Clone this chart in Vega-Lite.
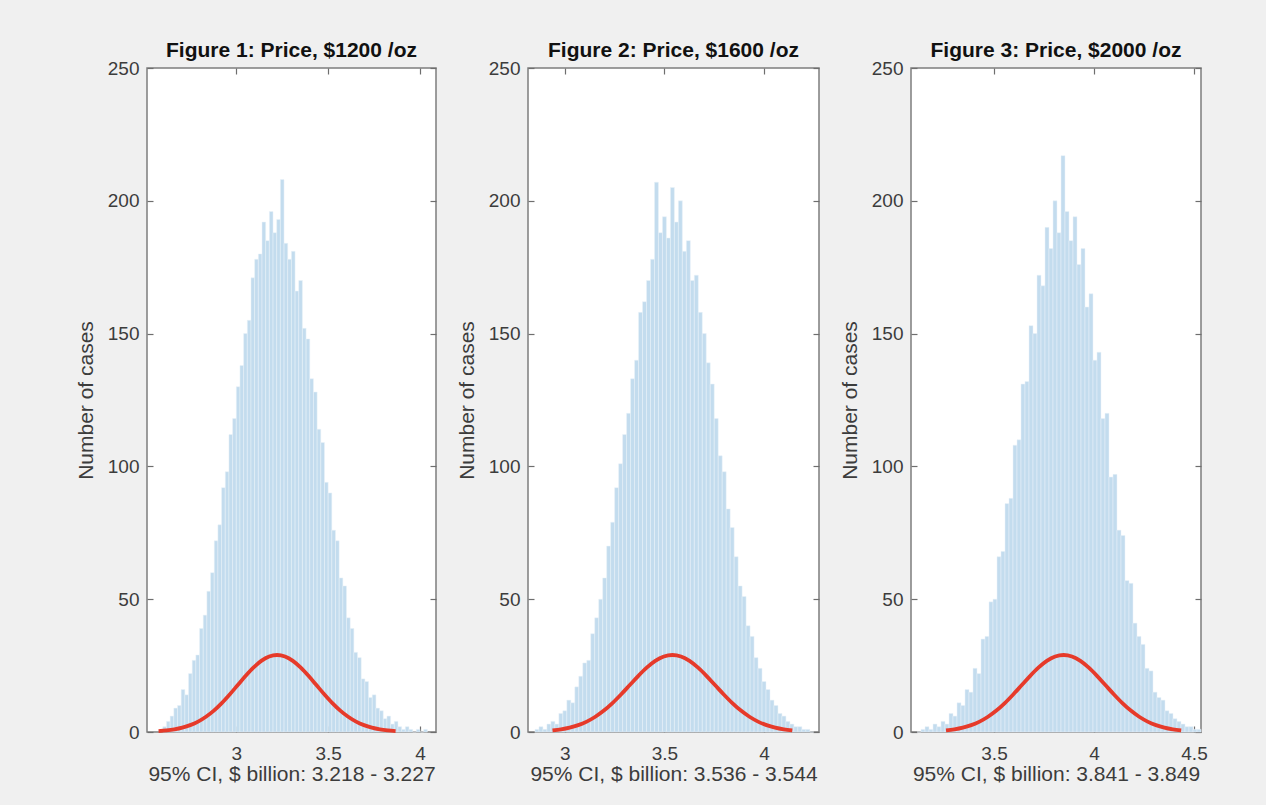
{
  "$schema": "https://vega.github.io/schema/vega-lite/v6.json",
  "background": "#f0f0f0",
  "padding": {"left": 74, "top": 39, "right": 60, "bottom": 20},
  "spacing": 17,
  "config": {
    "font": "Liberation Sans",
    "view": {"stroke": "#7d7d7d", "strokeWidth": 1.5, "fill": "white"},
    "axis": {
      "grid": false, "domain": false,
      "labelFont": "Liberation Sans", "labelFontSize": 19, "labelColor": "#3c3c3c",
      "titleFont": "Liberation Sans", "titleFontSize": 21, "titleFontWeight": "normal", "titleColor": "#3c3c3c",
      "tickColor": "#6e6e6e", "tickSize": -6, "tickWidth": 1.2
    },
    "title": {"font": "Liberation Sans", "fontSize": 21, "fontWeight": "bold", "color": "#111111", "offset": -2}
  },
  "datasets": {
    "h1": [
      {"x0": 2.60, "x1": 2.62, "n": 2}, {"x0": 2.62, "x1": 2.64, "n": 4}, {"x0": 2.64, "x1": 2.66, "n": 6}, {"x0": 2.66, "x1": 2.68, "n": 9},
      {"x0": 2.68, "x1": 2.70, "n": 10}, {"x0": 2.70, "x1": 2.72, "n": 16}, {"x0": 2.72, "x1": 2.74, "n": 14}, {"x0": 2.74, "x1": 2.76, "n": 22},
      {"x0": 2.76, "x1": 2.78, "n": 27}, {"x0": 2.78, "x1": 2.80, "n": 29}, {"x0": 2.80, "x1": 2.82, "n": 39}, {"x0": 2.82, "x1": 2.84, "n": 44},
      {"x0": 2.84, "x1": 2.86, "n": 53}, {"x0": 2.86, "x1": 2.88, "n": 60}, {"x0": 2.88, "x1": 2.90, "n": 72}, {"x0": 2.90, "x1": 2.92, "n": 78},
      {"x0": 2.92, "x1": 2.94, "n": 92}, {"x0": 2.94, "x1": 2.96, "n": 98}, {"x0": 2.96, "x1": 2.98, "n": 112}, {"x0": 2.98, "x1": 3.00, "n": 118},
      {"x0": 3.00, "x1": 3.02, "n": 130}, {"x0": 3.02, "x1": 3.04, "n": 138}, {"x0": 3.04, "x1": 3.06, "n": 150}, {"x0": 3.06, "x1": 3.08, "n": 155},
      {"x0": 3.08, "x1": 3.10, "n": 171}, {"x0": 3.10, "x1": 3.12, "n": 178}, {"x0": 3.12, "x1": 3.14, "n": 180}, {"x0": 3.14, "x1": 3.16, "n": 192},
      {"x0": 3.16, "x1": 3.18, "n": 185}, {"x0": 3.18, "x1": 3.20, "n": 196}, {"x0": 3.20, "x1": 3.22, "n": 188}, {"x0": 3.22, "x1": 3.24, "n": 193},
      {"x0": 3.24, "x1": 3.26, "n": 208}, {"x0": 3.26, "x1": 3.28, "n": 184}, {"x0": 3.28, "x1": 3.30, "n": 178}, {"x0": 3.30, "x1": 3.32, "n": 181},
      {"x0": 3.32, "x1": 3.34, "n": 166}, {"x0": 3.34, "x1": 3.36, "n": 170}, {"x0": 3.36, "x1": 3.38, "n": 152}, {"x0": 3.38, "x1": 3.40, "n": 148},
      {"x0": 3.40, "x1": 3.42, "n": 133}, {"x0": 3.42, "x1": 3.44, "n": 128}, {"x0": 3.44, "x1": 3.46, "n": 114}, {"x0": 3.46, "x1": 3.48, "n": 109},
      {"x0": 3.48, "x1": 3.50, "n": 94}, {"x0": 3.50, "x1": 3.52, "n": 90}, {"x0": 3.52, "x1": 3.54, "n": 76}, {"x0": 3.54, "x1": 3.56, "n": 72},
      {"x0": 3.56, "x1": 3.58, "n": 58}, {"x0": 3.58, "x1": 3.60, "n": 55}, {"x0": 3.60, "x1": 3.62, "n": 43}, {"x0": 3.62, "x1": 3.64, "n": 39},
      {"x0": 3.64, "x1": 3.66, "n": 30}, {"x0": 3.66, "x1": 3.68, "n": 28}, {"x0": 3.68, "x1": 3.70, "n": 20}, {"x0": 3.70, "x1": 3.72, "n": 19},
      {"x0": 3.72, "x1": 3.74, "n": 13}, {"x0": 3.74, "x1": 3.76, "n": 14}, {"x0": 3.76, "x1": 3.78, "n": 9}, {"x0": 3.78, "x1": 3.80, "n": 8},
      {"x0": 3.80, "x1": 3.82, "n": 5}, {"x0": 3.82, "x1": 3.84, "n": 6}, {"x0": 3.84, "x1": 3.86, "n": 3}, {"x0": 3.86, "x1": 3.88, "n": 4},
      {"x0": 3.88, "x1": 3.90, "n": 2}, {"x0": 3.90, "x1": 3.92, "n": 1}, {"x0": 3.92, "x1": 3.94, "n": 2}, {"x0": 3.94, "x1": 3.96, "n": 1},
      {"x0": 3.96, "x1": 3.98, "n": 0}, {"x0": 3.98, "x1": 4.00, "n": 1}, {"x0": 4.00, "x1": 4.02, "n": 0}, {"x0": 4.02, "x1": 4.04, "n": 1}
    ],
    "h2": [
      {"x0": 2.85, "x1": 2.87, "n": 1}, {"x0": 2.87, "x1": 2.89, "n": 2}, {"x0": 2.89, "x1": 2.91, "n": 1}, {"x0": 2.91, "x1": 2.93, "n": 3},
      {"x0": 2.93, "x1": 2.95, "n": 4}, {"x0": 2.95, "x1": 2.97, "n": 3}, {"x0": 2.97, "x1": 2.99, "n": 7}, {"x0": 2.99, "x1": 3.01, "n": 8},
      {"x0": 3.01, "x1": 3.03, "n": 12}, {"x0": 3.03, "x1": 3.05, "n": 11}, {"x0": 3.05, "x1": 3.07, "n": 17}, {"x0": 3.07, "x1": 3.09, "n": 21},
      {"x0": 3.09, "x1": 3.11, "n": 26}, {"x0": 3.11, "x1": 3.13, "n": 27}, {"x0": 3.13, "x1": 3.15, "n": 37}, {"x0": 3.15, "x1": 3.17, "n": 43},
      {"x0": 3.17, "x1": 3.19, "n": 50}, {"x0": 3.19, "x1": 3.21, "n": 58}, {"x0": 3.21, "x1": 3.23, "n": 70}, {"x0": 3.23, "x1": 3.25, "n": 79},
      {"x0": 3.25, "x1": 3.27, "n": 92}, {"x0": 3.27, "x1": 3.29, "n": 101}, {"x0": 3.29, "x1": 3.31, "n": 112}, {"x0": 3.31, "x1": 3.33, "n": 120},
      {"x0": 3.33, "x1": 3.35, "n": 133}, {"x0": 3.35, "x1": 3.37, "n": 140}, {"x0": 3.37, "x1": 3.39, "n": 158}, {"x0": 3.39, "x1": 3.41, "n": 162},
      {"x0": 3.41, "x1": 3.43, "n": 170}, {"x0": 3.43, "x1": 3.45, "n": 178}, {"x0": 3.45, "x1": 3.47, "n": 207}, {"x0": 3.47, "x1": 3.49, "n": 188},
      {"x0": 3.49, "x1": 3.51, "n": 194}, {"x0": 3.51, "x1": 3.53, "n": 186}, {"x0": 3.53, "x1": 3.55, "n": 205}, {"x0": 3.55, "x1": 3.57, "n": 192},
      {"x0": 3.57, "x1": 3.59, "n": 200}, {"x0": 3.59, "x1": 3.61, "n": 181}, {"x0": 3.61, "x1": 3.63, "n": 185}, {"x0": 3.63, "x1": 3.65, "n": 170},
      {"x0": 3.65, "x1": 3.67, "n": 172}, {"x0": 3.67, "x1": 3.69, "n": 158}, {"x0": 3.69, "x1": 3.71, "n": 150}, {"x0": 3.71, "x1": 3.73, "n": 139},
      {"x0": 3.73, "x1": 3.75, "n": 131}, {"x0": 3.75, "x1": 3.77, "n": 118}, {"x0": 3.77, "x1": 3.79, "n": 104}, {"x0": 3.79, "x1": 3.81, "n": 98},
      {"x0": 3.81, "x1": 3.83, "n": 84}, {"x0": 3.83, "x1": 3.85, "n": 77}, {"x0": 3.85, "x1": 3.87, "n": 66}, {"x0": 3.87, "x1": 3.89, "n": 55},
      {"x0": 3.89, "x1": 3.91, "n": 51}, {"x0": 3.91, "x1": 3.93, "n": 40}, {"x0": 3.93, "x1": 3.95, "n": 36}, {"x0": 3.95, "x1": 3.97, "n": 28},
      {"x0": 3.97, "x1": 3.99, "n": 24}, {"x0": 3.99, "x1": 4.01, "n": 19}, {"x0": 4.01, "x1": 4.03, "n": 16}, {"x0": 4.03, "x1": 4.05, "n": 12},
      {"x0": 4.05, "x1": 4.07, "n": 10}, {"x0": 4.07, "x1": 4.09, "n": 7}, {"x0": 4.09, "x1": 4.11, "n": 6}, {"x0": 4.11, "x1": 4.13, "n": 4},
      {"x0": 4.13, "x1": 4.15, "n": 3}, {"x0": 4.15, "x1": 4.17, "n": 2}, {"x0": 4.17, "x1": 4.19, "n": 2}, {"x0": 4.19, "x1": 4.21, "n": 1},
      {"x0": 4.21, "x1": 4.23, "n": 1}, {"x0": 4.23, "x1": 4.25, "n": 0}
    ],
    "h3": [
      {"x0": 3.115, "x1": 3.135, "n": 0}, {"x0": 3.135, "x1": 3.155, "n": 1}, {"x0": 3.155, "x1": 3.175, "n": 2}, {"x0": 3.175, "x1": 3.195, "n": 1},
      {"x0": 3.195, "x1": 3.215, "n": 3}, {"x0": 3.215, "x1": 3.235, "n": 2}, {"x0": 3.235, "x1": 3.255, "n": 4}, {"x0": 3.255, "x1": 3.275, "n": 3},
      {"x0": 3.275, "x1": 3.295, "n": 7}, {"x0": 3.295, "x1": 3.315, "n": 6}, {"x0": 3.315, "x1": 3.335, "n": 11}, {"x0": 3.335, "x1": 3.355, "n": 10},
      {"x0": 3.355, "x1": 3.375, "n": 16}, {"x0": 3.375, "x1": 3.395, "n": 15}, {"x0": 3.395, "x1": 3.415, "n": 24}, {"x0": 3.415, "x1": 3.435, "n": 22},
      {"x0": 3.435, "x1": 3.455, "n": 35}, {"x0": 3.455, "x1": 3.475, "n": 36}, {"x0": 3.475, "x1": 3.495, "n": 49}, {"x0": 3.495, "x1": 3.515, "n": 50},
      {"x0": 3.515, "x1": 3.535, "n": 66}, {"x0": 3.535, "x1": 3.555, "n": 68}, {"x0": 3.555, "x1": 3.575, "n": 86}, {"x0": 3.575, "x1": 3.595, "n": 88},
      {"x0": 3.595, "x1": 3.615, "n": 108}, {"x0": 3.615, "x1": 3.635, "n": 110}, {"x0": 3.635, "x1": 3.655, "n": 131}, {"x0": 3.655, "x1": 3.675, "n": 132},
      {"x0": 3.675, "x1": 3.695, "n": 153}, {"x0": 3.695, "x1": 3.715, "n": 150}, {"x0": 3.715, "x1": 3.735, "n": 172}, {"x0": 3.735, "x1": 3.755, "n": 168},
      {"x0": 3.755, "x1": 3.775, "n": 190}, {"x0": 3.775, "x1": 3.795, "n": 182}, {"x0": 3.795, "x1": 3.815, "n": 200}, {"x0": 3.815, "x1": 3.835, "n": 188},
      {"x0": 3.835, "x1": 3.855, "n": 217}, {"x0": 3.855, "x1": 3.875, "n": 196}, {"x0": 3.875, "x1": 3.895, "n": 185}, {"x0": 3.895, "x1": 3.915, "n": 194},
      {"x0": 3.915, "x1": 3.935, "n": 176}, {"x0": 3.935, "x1": 3.955, "n": 182}, {"x0": 3.955, "x1": 3.975, "n": 160}, {"x0": 3.975, "x1": 3.995, "n": 165},
      {"x0": 3.995, "x1": 4.015, "n": 140}, {"x0": 4.015, "x1": 4.035, "n": 143}, {"x0": 4.035, "x1": 4.055, "n": 118}, {"x0": 4.055, "x1": 4.075, "n": 120},
      {"x0": 4.075, "x1": 4.095, "n": 96}, {"x0": 4.095, "x1": 4.115, "n": 97}, {"x0": 4.115, "x1": 4.135, "n": 76}, {"x0": 4.135, "x1": 4.155, "n": 74},
      {"x0": 4.155, "x1": 4.175, "n": 57}, {"x0": 4.175, "x1": 4.195, "n": 56}, {"x0": 4.195, "x1": 4.215, "n": 41}, {"x0": 4.215, "x1": 4.235, "n": 36},
      {"x0": 4.235, "x1": 4.255, "n": 33}, {"x0": 4.255, "x1": 4.275, "n": 24}, {"x0": 4.275, "x1": 4.295, "n": 23}, {"x0": 4.295, "x1": 4.315, "n": 15},
      {"x0": 4.315, "x1": 4.335, "n": 13}, {"x0": 4.335, "x1": 4.355, "n": 12}, {"x0": 4.355, "x1": 4.375, "n": 8}, {"x0": 4.375, "x1": 4.395, "n": 7},
      {"x0": 4.395, "x1": 4.415, "n": 5}, {"x0": 4.415, "x1": 4.435, "n": 4}, {"x0": 4.435, "x1": 4.455, "n": 3}, {"x0": 4.455, "x1": 4.475, "n": 2},
      {"x0": 4.475, "x1": 4.495, "n": 2}, {"x0": 4.495, "x1": 4.515, "n": 1}, {"x0": 4.515, "x1": 4.535, "n": 1}
    ],
    "c1": [
      {"x": 2.577, "y": 0.32}, {"x": 2.620, "y": 0.58}, {"x": 2.663, "y": 0.99}, {"x": 2.706, "y": 1.63}, {"x": 2.749, "y": 2.58},
      {"x": 2.792, "y": 3.92}, {"x": 2.835, "y": 5.74}, {"x": 2.878, "y": 8.06}, {"x": 2.921, "y": 10.88}, {"x": 2.964, "y": 14.12},
      {"x": 3.007, "y": 17.59}, {"x": 3.050, "y": 21.06}, {"x": 3.093, "y": 24.22}, {"x": 3.136, "y": 26.77}, {"x": 3.179, "y": 28.43},
      {"x": 3.222, "y": 29.0},
      {"x": 3.265, "y": 28.43}, {"x": 3.308, "y": 26.77}, {"x": 3.351, "y": 24.22}, {"x": 3.394, "y": 21.06}, {"x": 3.437, "y": 17.59},
      {"x": 3.480, "y": 14.12}, {"x": 3.523, "y": 10.88}, {"x": 3.566, "y": 8.06}, {"x": 3.609, "y": 5.74}, {"x": 3.652, "y": 3.92},
      {"x": 3.695, "y": 2.58}, {"x": 3.738, "y": 1.63}, {"x": 3.781, "y": 0.99}, {"x": 3.824, "y": 0.58}, {"x": 3.867, "y": 0.32}
    ],
    "c2": [
      {"x": 2.938, "y": 0.58}, {"x": 2.981, "y": 0.99}, {"x": 3.024, "y": 1.63}, {"x": 3.067, "y": 2.58},
      {"x": 3.110, "y": 3.92}, {"x": 3.153, "y": 5.74}, {"x": 3.196, "y": 8.06}, {"x": 3.239, "y": 10.88}, {"x": 3.282, "y": 14.12},
      {"x": 3.325, "y": 17.59}, {"x": 3.368, "y": 21.06}, {"x": 3.411, "y": 24.22}, {"x": 3.454, "y": 26.77}, {"x": 3.497, "y": 28.43},
      {"x": 3.540, "y": 29.0},
      {"x": 3.583, "y": 28.43}, {"x": 3.626, "y": 26.77}, {"x": 3.669, "y": 24.22}, {"x": 3.712, "y": 21.06}, {"x": 3.755, "y": 17.59},
      {"x": 3.798, "y": 14.12}, {"x": 3.841, "y": 10.88}, {"x": 3.884, "y": 8.06}, {"x": 3.927, "y": 5.74}, {"x": 3.970, "y": 3.92},
      {"x": 4.013, "y": 2.58}, {"x": 4.056, "y": 1.63}, {"x": 4.099, "y": 0.99}, {"x": 4.142, "y": 0.58}
    ],
    "c3": [
      {"x": 3.260, "y": 0.58}, {"x": 3.302, "y": 0.99}, {"x": 3.344, "y": 1.63}, {"x": 3.386, "y": 2.58},
      {"x": 3.428, "y": 3.92}, {"x": 3.470, "y": 5.74}, {"x": 3.512, "y": 8.06}, {"x": 3.554, "y": 10.88}, {"x": 3.596, "y": 14.12},
      {"x": 3.638, "y": 17.59}, {"x": 3.680, "y": 21.06}, {"x": 3.722, "y": 24.22}, {"x": 3.764, "y": 26.77}, {"x": 3.806, "y": 28.43},
      {"x": 3.848, "y": 29.0},
      {"x": 3.890, "y": 28.43}, {"x": 3.932, "y": 26.77}, {"x": 3.974, "y": 24.22}, {"x": 4.016, "y": 21.06}, {"x": 4.058, "y": 17.59},
      {"x": 4.100, "y": 14.12}, {"x": 4.142, "y": 10.88}, {"x": 4.184, "y": 8.06}, {"x": 4.226, "y": 5.74}, {"x": 4.268, "y": 3.92},
      {"x": 4.310, "y": 2.58}, {"x": 4.352, "y": 1.63}, {"x": 4.394, "y": 0.99}, {"x": 4.436, "y": 0.58}
    ]
  },
  "hconcat": [
    {
      "width": 289, "height": 664,
      "title": {"text": "Figure 1: Price, $1200 /oz"},
      "layer": [
        {
          "data": {"name": "h1"},
          "mark": {"type": "bar", "fill": "#c3dcee", "stroke": "#eaf2f9", "strokeWidth": 0.5},
          "encoding": {
            "x": {"field": "x0", "type": "quantitative", "scale": {"domain": [2.514, 4.087], "nice": false, "zero": false},
                  "axis": {"orient": "bottom", "values": [3, 3.5, 4], "format": "~g", "labelPadding": 18, "title": "95% CI, $ billion: 3.218 - 3.227", "titlePadding": 0}},
            "x2": {"field": "x1"},
            "y": {"field": "n", "type": "quantitative", "scale": {"domain": [0, 250], "nice": false},
                  "axis": {"orient": "left", "values": [0, 50, 100, 150, 200, 250], "labelPadding": 14, "minExtent": 38, "maxExtent": 38, "title": "Number of cases", "titlePadding": 13}},
            "y2": {"datum": 0}
          }
        },
        {
          "data": {"name": "c1"},
          "mark": {"type": "line", "color": "#e63a2a", "strokeWidth": 3.8, "interpolate": "monotone"},
          "encoding": {
            "x": {"field": "x", "type": "quantitative", "scale": {"domain": [2.514, 4.087], "nice": false, "zero": false},
                  "axis": {"orient": "top", "values": [3, 3.5, 4], "labels": false, "title": null}},
            "y": {"field": "y", "type": "quantitative", "scale": {"domain": [0, 250], "nice": false},
                  "axis": {"orient": "right", "values": [0, 50, 100, 150, 200, 250], "labels": false, "title": null}}
          }
        }
      ],
      "resolve": {"axis": {"x": "independent", "y": "independent"}}
    },
    {
      "width": 291, "height": 664,
      "title": {"text": "Figure 2: Price, $1600 /oz"},
      "layer": [
        {
          "data": {"name": "h2"},
          "mark": {"type": "bar", "fill": "#c3dcee", "stroke": "#eaf2f9", "strokeWidth": 0.5},
          "encoding": {
            "x": {"field": "x0", "type": "quantitative", "scale": {"domain": [2.815, 4.276], "nice": false, "zero": false},
                  "axis": {"orient": "bottom", "values": [3, 3.5, 4], "format": "~g", "labelPadding": 18, "title": "95% CI, $ billion: 3.536 - 3.544", "titlePadding": 0}},
            "x2": {"field": "x1"},
            "y": {"field": "n", "type": "quantitative", "scale": {"domain": [0, 250], "nice": false},
                  "axis": {"orient": "left", "values": [0, 50, 100, 150, 200, 250], "labelPadding": 14, "minExtent": 38, "maxExtent": 38, "title": "Number of cases", "titlePadding": 13}},
            "y2": {"datum": 0}
          }
        },
        {
          "data": {"name": "c2"},
          "mark": {"type": "line", "color": "#e63a2a", "strokeWidth": 3.8, "interpolate": "monotone"},
          "encoding": {
            "x": {"field": "x", "type": "quantitative", "scale": {"domain": [2.815, 4.276], "nice": false, "zero": false},
                  "axis": {"orient": "top", "values": [3, 3.5, 4], "labels": false, "title": null}},
            "y": {"field": "y", "type": "quantitative", "scale": {"domain": [0, 250], "nice": false},
                  "axis": {"orient": "right", "values": [0, 50, 100, 150, 200, 250], "labels": false, "title": null}}
          }
        }
      ],
      "resolve": {"axis": {"x": "independent", "y": "independent"}}
    },
    {
      "width": 290, "height": 664,
      "title": {"text": "Figure 3: Price, $2000 /oz"},
      "layer": [
        {
          "data": {"name": "h3"},
          "mark": {"type": "bar", "fill": "#c3dcee", "stroke": "#eaf2f9", "strokeWidth": 0.5},
          "encoding": {
            "x": {"field": "x0", "type": "quantitative", "scale": {"domain": [3.085, 4.535], "nice": false, "zero": false},
                  "axis": {"orient": "bottom", "values": [3.5, 4, 4.5], "format": "~g", "labelPadding": 18, "title": "95% CI, $ billion: 3.841 - 3.849", "titlePadding": 0}},
            "x2": {"field": "x1"},
            "y": {"field": "n", "type": "quantitative", "scale": {"domain": [0, 250], "nice": false},
                  "axis": {"orient": "left", "values": [0, 50, 100, 150, 200, 250], "labelPadding": 14, "minExtent": 38, "maxExtent": 38, "title": "Number of cases", "titlePadding": 13}},
            "y2": {"datum": 0}
          }
        },
        {
          "data": {"name": "c3"},
          "mark": {"type": "line", "color": "#e63a2a", "strokeWidth": 3.8, "interpolate": "monotone"},
          "encoding": {
            "x": {"field": "x", "type": "quantitative", "scale": {"domain": [3.085, 4.535], "nice": false, "zero": false},
                  "axis": {"orient": "top", "values": [3.5, 4, 4.5], "labels": false, "title": null}},
            "y": {"field": "y", "type": "quantitative", "scale": {"domain": [0, 250], "nice": false},
                  "axis": {"orient": "right", "values": [0, 50, 100, 150, 200, 250], "labels": false, "title": null}}
          }
        }
      ],
      "resolve": {"axis": {"x": "independent", "y": "independent"}}
    }
  ]
}
